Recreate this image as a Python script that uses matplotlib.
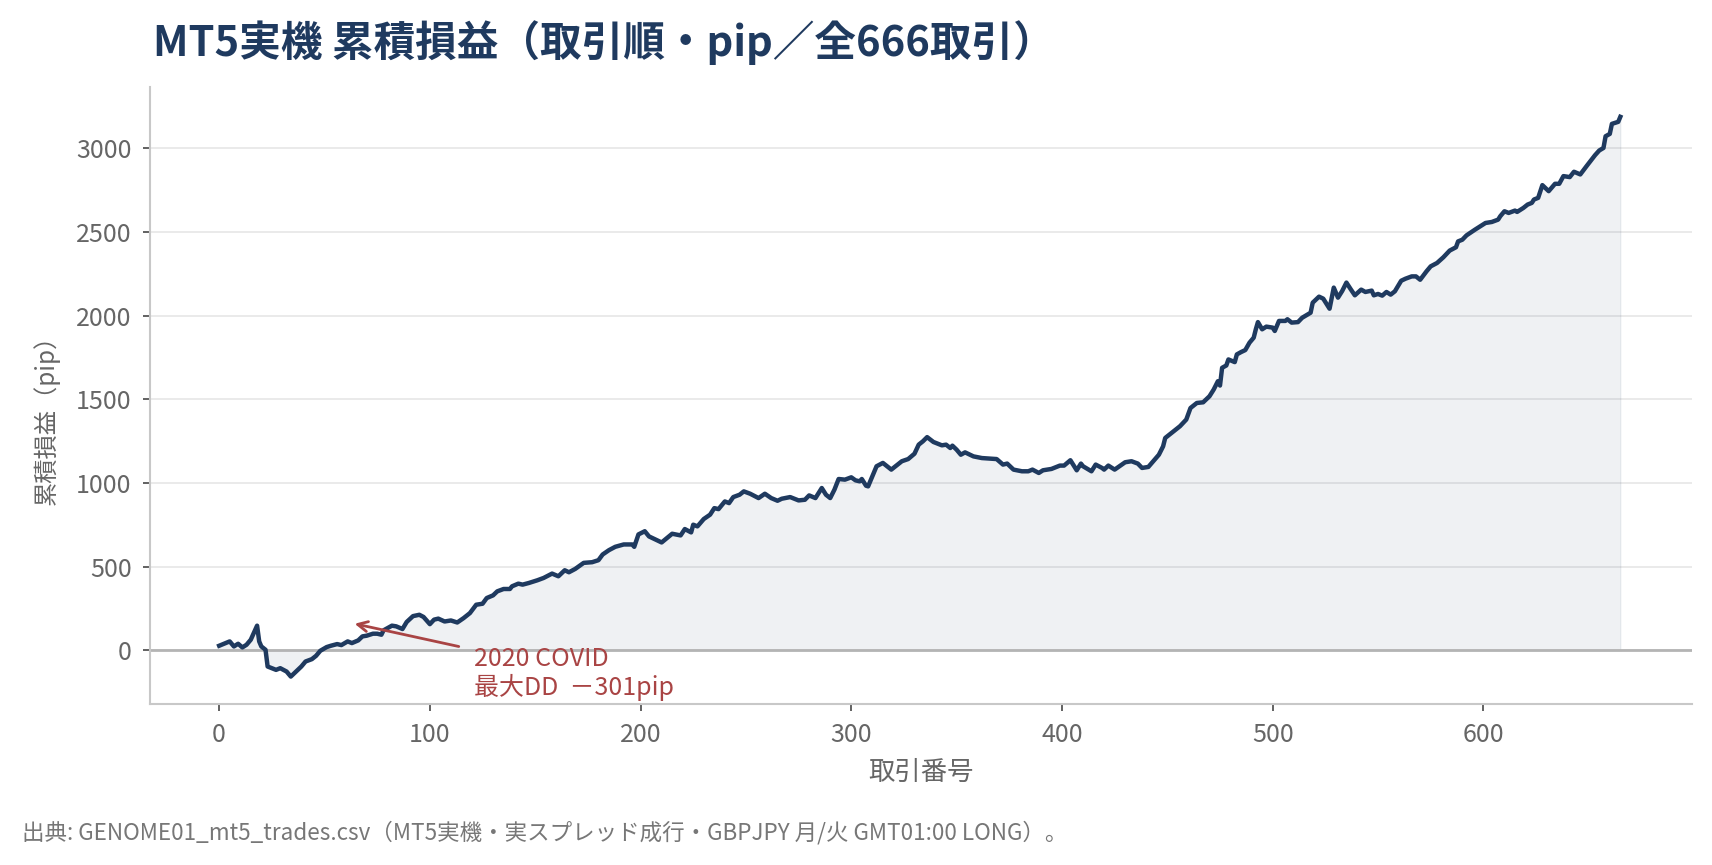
import matplotlib
matplotlib.use("Agg")
import matplotlib.pyplot as plt

plt.rcParams['font.family'] = ['Noto Sans CJK JP', 'DejaVu Sans']

# 取引番号 / 累積損益（pip） — チャートから読み取った値
trades = [
    0, 5, 7, 9, 11, 13, 15, 18, 19, 20, 22, 23, 25, 27, 29, 32, 34, 36, 39, 41,
    44, 46, 48, 51, 53, 56, 58, 61, 63, 66, 68, 70, 73, 75, 77, 78, 82, 84, 87, 89,
    92, 95, 97, 100, 102, 104, 107, 110, 113, 116, 119, 122, 125, 127, 130, 132, 135, 138, 139, 142,
    144, 147, 151, 154, 158, 161, 164, 166, 169, 173, 177, 180, 182, 185, 188, 192, 196, 197, 199, 202,
    204, 210, 215, 219, 221, 224, 225, 227, 230, 233, 235, 237, 240, 242, 244, 247, 249, 252, 256, 259,
    262, 265, 267, 271, 275, 278, 280, 283, 286, 288, 290, 292, 294, 297, 300, 302, 304, 305, 307, 308,
    310, 312, 315, 316, 319, 324, 327, 330, 332, 334, 336, 339, 343, 345, 347, 348, 350, 352, 354, 358,
    362, 369, 372, 374, 377, 381, 384, 386, 389, 391, 395, 399, 401, 404, 407, 409, 410, 414, 416, 419,
    420, 422, 425, 430, 433, 436, 438, 441, 444, 446, 448, 449, 453, 456, 459, 461, 464, 467, 470, 472,
    474, 475, 476, 478, 479, 482, 483, 485, 487, 489, 491, 492, 493, 495, 497, 500, 501, 503, 506, 507,
    509, 512, 514, 518, 519, 522, 524, 527, 529, 531, 533, 535, 537, 539, 542, 544, 547, 548, 550, 552,
    554, 556, 558, 561, 563, 566, 568, 570, 573, 575, 578, 581, 584, 587, 588, 590, 592, 596, 599, 601,
    604, 607, 608, 610, 612, 615, 616, 619, 621, 623, 624, 626, 628, 631, 634, 636, 638, 641, 643, 646,
    649, 653, 655, 657, 658, 660, 661, 664, 665,
]
cum_pips = [
    28, 54, 24, 40, 18, 34, 64, 148, 54, 24, 4, -96, -106, -116, -106, -126, -156, -132, -96, -66,
    -52, -32, -2, 20, 28, 38, 32, 54, 44, 60, 84, 88, 100, 100, 94, 120, 148, 144, 128, 170,
    205, 213, 200, 157, 184, 190, 173, 179, 167, 193, 223, 273, 279, 313, 329, 353, 367, 367, 383, 399,
    393, 403, 419, 433, 459, 443, 479, 467, 487, 523, 527, 539, 573, 599, 619, 633, 633, 619, 693, 712,
    681, 645, 697, 687, 725, 705, 751, 741, 785, 811, 850, 844, 890, 880, 916, 930, 950, 936, 910, 936,
    910, 894, 906, 916, 896, 900, 926, 910, 970, 930, 910, 960, 1024, 1020, 1034, 1016, 1010, 1024, 984, 980,
    1040, 1100, 1120, 1110, 1080, 1130, 1143, 1175, 1229, 1249, 1274, 1245, 1225, 1229, 1209, 1223, 1199, 1169, 1183, 1159,
    1149, 1143, 1110, 1116, 1080, 1070, 1070, 1080, 1060, 1076, 1084, 1104, 1104, 1136, 1076, 1116, 1100, 1070, 1110, 1090,
    1080, 1104, 1080, 1124, 1130, 1116, 1090, 1096, 1140, 1169, 1219, 1269, 1309, 1339, 1379, 1448, 1478, 1482, 1518, 1558,
    1608, 1582, 1688, 1702, 1738, 1722, 1768, 1782, 1794, 1838, 1868, 1918, 1961, 1918, 1934, 1928, 1908, 1968, 1968, 1978,
    1958, 1961, 1987, 2017, 2077, 2113, 2101, 2041, 2167, 2107, 2147, 2197, 2158, 2121, 2155, 2141, 2149, 2121, 2129, 2119,
    2141, 2125, 2145, 2208, 2220, 2234, 2234, 2214, 2264, 2294, 2314, 2348, 2388, 2408, 2443, 2453, 2479, 2513, 2537, 2553,
    2559, 2573, 2593, 2623, 2613, 2627, 2619, 2643, 2663, 2673, 2693, 2703, 2779, 2743, 2787, 2787, 2833, 2827, 2859, 2843,
    2893, 2958, 2986, 3001, 3071, 3085, 3145, 3157, 3187,
]

x_ticks = [0, 100, 200, 300, 400, 500, 600]
y_ticks = [0, 500, 1000, 1500, 2000, 2500, 3000]

navy = "#1f3a5f"
red = "#a94444"

fig = plt.figure(figsize=(17.12, 8.65), dpi=100)
ax = fig.add_axes([0.0874, 0.1861, 0.9009, 0.7133])

ax.fill_between(trades, cum_pips, 0, color=navy, alpha=0.07, linewidth=1.0)
ax.plot(trades, cum_pips, color=navy, linewidth=3.2, solid_joinstyle="round")
ax.axhline(0, color="#b4b4b4", linewidth=2.0, zorder=1)

ax.set_xlim(-33, 699)
ax.set_ylim(-320, 3365)
ax.set_xticks(x_ticks)
ax.set_yticks(y_ticks)
ax.grid(axis="y", color="#e6e6e6", linewidth=1.2)
ax.set_axisbelow(True)

for side in ["top", "right"]:
    ax.spines[side].set_visible(False)
for side in ["left", "bottom"]:
    ax.spines[side].set_color("#c8c8c8")
    ax.spines[side].set_linewidth(1.5)

ax.tick_params(axis="both", colors="#555555", labelsize=18, length=5, width=1.3, pad=8)
ax.tick_params(axis="both", labelcolor="#666666")

ax.set_xlabel("取引番号", fontsize=19, color="#666666", labelpad=8)
ax.set_ylabel("累積損益（pip）", fontsize=17.5, color="#666666")
ax.yaxis.set_label_coords(-0.058, 0.47)

ax.set_title("MT5実機 累積損益（取引順・pip／全666取引）", loc="left",
             fontsize=30, fontweight="bold", color=navy, pad=22, x=0.002)

ax.annotate("", xy=(63, 163), xytext=(115, 20),
            arrowprops=dict(arrowstyle="->", color=red, lw=2.0, mutation_scale=18))
ax.text(121, 26, "2020 COVID\n最大DD  －301pip", color=red, fontsize=18,
        ha="left", va="top", linespacing=1.1)

fig.text(0.013, 0.037, "出典: GENOME01_mt5_trades.csv（MT5実機・実スプレッド成行・GBPJPY 月/火 GMT01:00 LONG）。",
         fontsize=16.2, color="#777777", ha="left", va="center")

fig.savefig("out.png", dpi=100)
